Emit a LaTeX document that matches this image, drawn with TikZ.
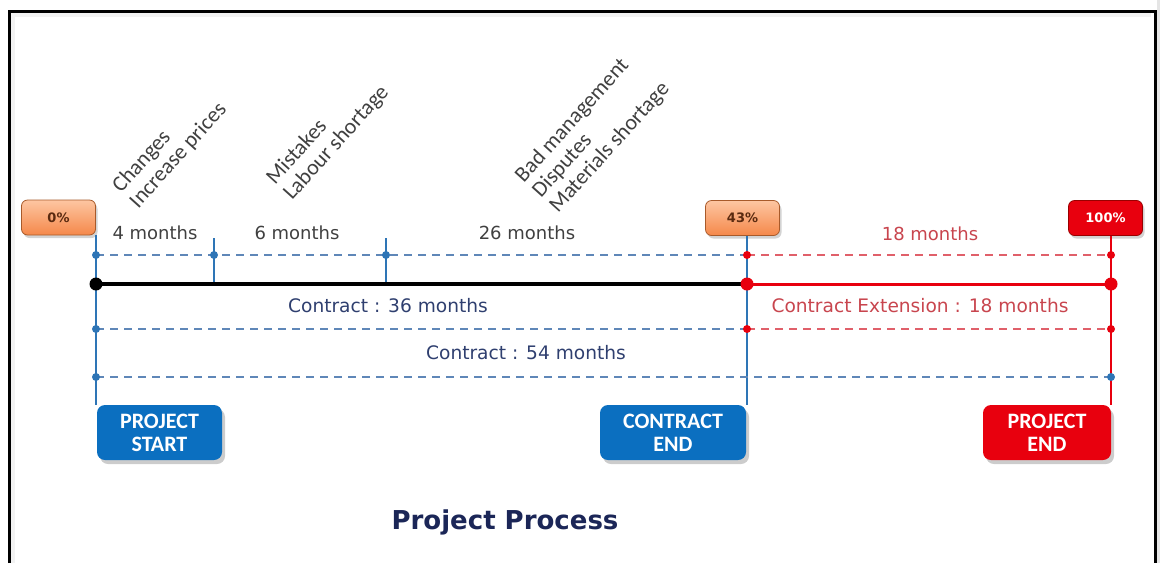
\documentclass[tikz,border=0pt]{standalone}
\usepackage{fontspec}
\setmainfont{DejaVu Sans}
\newfontfamily\calibri{Carlito}
\usetikzlibrary{positioning, shadows, calc}

\definecolor{pcttop}{HTML}{FDC6A2}
\definecolor{pctbot}{HTML}{F5884A}
\definecolor{pctedge}{HTML}{A85A2A}
\definecolor{pcttext}{HTML}{5A2A10}
\definecolor{endred}{HTML}{E8000E}
\definecolor{stageblue}{HTML}{0B6FC0}
\definecolor{lineblue}{HTML}{2E75B6}
\definecolor{dashblue}{HTML}{5F87B8}
\definecolor{dashred}{HTML}{E0606A}
\definecolor{spangray}{HTML}{404040}
\definecolor{dealblue}{HTML}{2F3F6F}
\definecolor{redtext}{HTML}{C8454E}
\definecolor{titleblue}{HTML}{1B2657}

\begin{document}
\begin{tikzpicture}[x=0.5pt, y=-0.5pt,
  pct/.style={draw=pctedge, rounded corners=3pt, top color=pcttop, bottom color=pctbot,
              minimum width=37pt, minimum height=17.5pt, inner sep=0pt,
              font=\fontsize{6.5}{7}\selectfont\bfseries, text=pcttext,
              drop shadow={opacity=0.35, shadow xshift=1pt, shadow yshift=-1.5pt}},
  pctred/.style={pct, draw=red!60!black, top color=endred, bottom color=endred, text=white},
  stage/.style={rounded corners=4pt, fill=stageblue, text=white, align=center,
                minimum height=27.5pt, inner sep=0pt,
                font=\calibri\fontsize{11}{11.5}\selectfont\bfseries,
                drop shadow={opacity=0.4, shadow xshift=1.5pt, shadow yshift=-2pt}},
  stagered/.style={stage, fill=endred},
  span/.style={font=\fontsize{9}{10}\selectfont, text=spangray},
  deal/.style={font=\fontsize{9.3}{10}\selectfont, text=dealblue},
  cause/.style={font=\calibri\fontsize{11}{11.5}\selectfont, align=left, rotate=48,
                anchor=south west, inner sep=0pt, text=black!75},
  bdash/.style={dash pattern=on 4pt off 3pt, line width=0.75pt, draw=dashblue},
  rdash/.style={bdash, draw=dashred},
  vline/.style={line width=1pt, draw=lineblue},
  dot/.style={circle, fill=lineblue, inner sep=0pt, minimum size=4pt},
  bigdot/.style={dot, minimum size=6.5pt}
]
  \useasboundingbox (0,0) rectangle (1160,563);
  % frame
  \fill[black!10] (1157,0) rectangle (1160,563);
  \draw[black!5, line width=2pt] (13,563) -- (13,15) -- (1151,15);
  \draw[line width=1.5pt] (9,563) -- (9,11) -- (1155,11) -- (1155,563);

  % percentage markers
  \node[pct]    (p0)   at (58.5,217.5) {0\%};
  \node[pct]    (p43)  at (742.5,218)  {43\%};
  \node[pctred] (p100) at (1105.5,218) {100\%};

  % stage boxes
  \node[stage, minimum width=62.5pt]  (start) at (159.5,432.5) {PROJECT\\START};
  \node[stage, minimum width=73pt]    (cend)  at (673,432.5)   {CONTRACT\\END};
  \node[stagered, minimum width=64pt] (pend)  at (1047,432.5)  {PROJECT\\END};

  % grid points
  \coordinate (a0) at (96,255);  \coordinate (a1) at (214,255);
  \coordinate (a2) at (386,255); \coordinate (a3) at (747,255);
  \coordinate (a4) at (1111,255);
  \coordinate (t1) at (214,238); \coordinate (t2) at (386,238);
  \coordinate (b0) at (96,284);  \coordinate (b1) at (214,284);
  \coordinate (b2) at (386,284); \coordinate (b3) at (747,284);
  \coordinate (b4) at (1111,284);
  \coordinate (c0) at (96,329);  \coordinate (c3) at (747,329);
  \coordinate (c4) at (1111,329);
  \coordinate (d0) at (96,377);  \coordinate (d4) at (1111,377);

  % verticals
  \draw[vline] (b0 |- p0.south) -- (b0 |- start.north);
  \draw[vline] (t1) -- (b1);
  \draw[vline] (t2) -- (b2);
  \draw[vline] (b3 |- p43.south) -- (b3 |- cend.north);
  \draw[vline, draw=endred] (b4 |- p100.south) -- (b4 |- pend.north);

  % dashed spans
  \draw[bdash] (a0) -- (a3);
  \draw[rdash] (a3) -- (a4);
  \draw[bdash] (c0) -- (c3);
  \draw[rdash] (c3) -- (c4);
  \draw[bdash] (d0) -- (d4);

  % main time line
  \draw[line width=2pt] (b0) -- (b3);
  \draw[line width=1.5pt, draw=endred] (b3) -- (b4);

  % dots
  \foreach \p in {a0, a1, a2, c0, d0, d4}
    \node[dot] at (\p) {};
  \foreach \p in {a3, a4, c3, c4}
    \node[dot, fill=endred] at (\p) {};
  \node[bigdot, fill=black] at (b0) {};
  \node[bigdot, fill=endred] at (b3) {};
  \node[bigdot, fill=endred] at (b4) {};

  % durations
  \node[span] (m4)  at (155,233) {4 months};
  \node[span] (m6)  at (297,233) {6 months};
  \node[span] (m26) at (527,233) {26 months};
  \node[span, text=redtext] (m18) at (930,234) {18 months};
  \node[deal] (k36) at (388,306) {Contract : 36 months};
  \node[deal, text=redtext] (kext) at (920,306) {Contract Extension : 18 months};
  \node[deal] (k54) at (526,353) {Contract : 54 months};

  % causes of delay
  \node[cause] (why1) at (141,212) {Changes\\Increase prices};
  \node[cause] (why2) at (295,204) {Mistakes\\Labour shortage};
  \node[cause] (why3) at (561,217) {Bad management\\Disputes\\Materials shortage};

  \node[font=\fontsize{13}{15}\selectfont\bfseries, text=titleblue] (title) at (505,522) {Project Process};
\end{tikzpicture}
\end{document}
